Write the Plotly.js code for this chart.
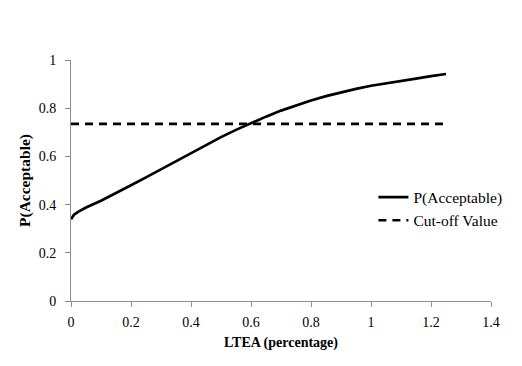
<!DOCTYPE html>
<html>
<head>
<meta charset="utf-8">
<script src="https://cdn.plot.ly/plotly-3.0.1.min.js"></script>
<style>html,body{margin:0;padding:0;background:#fff;}#chart{width:522px;height:366px;}</style>
</head>
<body>
<div id="chart"></div>
<script>
const ltea = [0, 0.01, 0.025, 0.05, 0.1, 0.15, 0.2, 0.25, 0.3, 0.35, 0.4, 0.45, 0.5, 0.55, 0.6, 0.65, 0.7, 0.75, 0.8, 0.85, 0.9, 0.95, 1.0, 1.05, 1.1, 1.15, 1.2, 1.25];
const pAcceptable = [0.339, 0.358, 0.371, 0.388, 0.416, 0.447, 0.48, 0.513, 0.547, 0.581, 0.615, 0.648, 0.68, 0.71, 0.738, 0.765, 0.79, 0.812, 0.832, 0.85, 0.866, 0.88, 0.893, 0.904, 0.914, 0.923, 0.933, 0.942];
const cutoffX = [0, 1.25];
const cutoffValue = [0.735, 0.735];
const xTicks = [0, 0.2, 0.4, 0.6, 0.8, 1, 1.2, 1.4];
const yTicks = [0, 0.2, 0.4, 0.6, 0.8, 1];

const font = {family: 'Liberation Serif, Times New Roman, serif', color: '#000'};

const traces = [
  {x: ltea, y: pAcceptable, mode: 'lines', name: 'P(Acceptable)', line: {color: '#000', width: 2.7}},
  {x: cutoffX, y: cutoffValue, mode: 'lines', name: 'Cut-off Value', line: {color: '#000', width: 2.7, dash: '8px,6px'}}
];

const axisCommon = {
  showgrid: false, zeroline: false, showline: true, linecolor: '#8c8c8c', linewidth: 1,
  ticks: 'outside', ticklen: 5, tickcolor: '#8c8c8c', tickwidth: 1,
  tickfont: Object.assign({size: 14}, font)
};

const layout = {
  width: 522, height: 366,
  margin: {l: 71, r: 31, t: 60, b: 65},
  paper_bgcolor: '#fff', plot_bgcolor: '#fff',
  font: font,
  showlegend: true,
  legend: {x: 0.72, y: 0.5, xanchor: 'left', yanchor: 'top', font: Object.assign({size: 15.5}, font), bgcolor: 'rgba(0,0,0,0)', tracegroupgap: 0},
  xaxis: Object.assign({}, axisCommon, {range: [0, 1.4], tickvals: xTicks, ticktext: xTicks.map(String), ticklabelstandoff: 3,
    title: {text: '<b>LTEA (percentage)</b>', font: Object.assign({size: 14}, font), standoff: 8}}),
  yaxis: Object.assign({}, axisCommon, {range: [0, 1], tickvals: yTicks, ticktext: yTicks.map(String), ticklabelstandoff: 6,
    title: {text: '<b>P(Acceptable)</b>', font: Object.assign({size: 15.5}, font), standoff: 4}})
};

Plotly.newPlot('chart', traces, layout, {displayModeBar: false, staticPlot: true});
</script>
</body>
</html>
